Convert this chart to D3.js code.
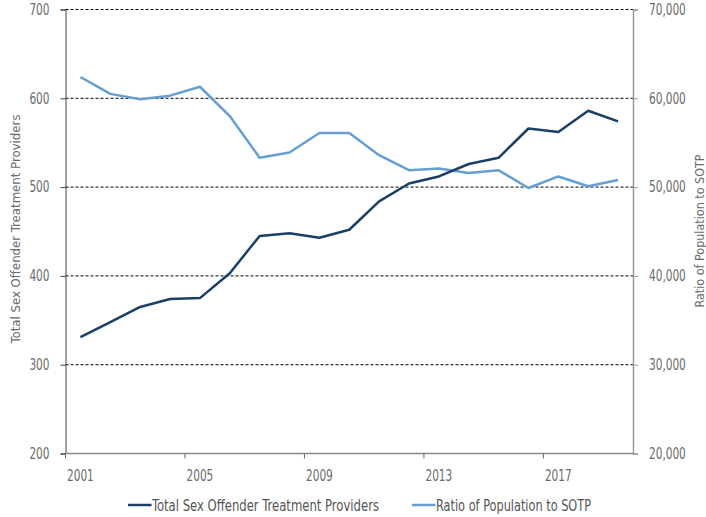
<!DOCTYPE html>
<html>
<head>
<meta charset="utf-8">
<script src="https://cdn.jsdelivr.net/npm/d3@7"></script>
<style>
  body { margin: 0; background: #fff; }
  text { font-family: "DejaVu Sans Condensed", "DejaVu Sans", sans-serif; font-stretch: condensed; fill: #6b6b6b; }
  .grid line { stroke: #000; stroke-dasharray: 3,2; stroke-width: 1; }
</style>
</head>
<body>
<script>
let years = d3.range(2001, 2020);
let providers = [331, 348, 365, 374, 375, 403, 445, 448, 443, 452, 484, 504, 512, 526, 533, 566, 562, 586, 574];
let ratio = [62400, 60500, 59900, 60300, 61300, 58000, 53300, 53900, 56100, 56100, 53600, 51900, 52100, 51600, 51900, 49900, 51200, 50100, 50800];
let leftTicks = [200, 300, 400, 500, 600, 700];
let rightTicks = [20000, 30000, 40000, 50000, 60000, 70000];
let yearLabels = [2001, 2005, 2009, 2013, 2017];

let W = 706, H = 517;
let margin = {top: 9.5, right: 73, bottom: 63.5, left: 65.5}
    , width = W - margin.left - margin.right
    , height = H - margin.top - margin.bottom;

let darkCol = "#1c3f66", lightCol = "#679fd3";

// squeeze text horizontally to mimic the condensed face of the original
let squeeze = (sel, k) => sel.each(function() {
    let w = this.getComputedTextLength();
    d3.select(this).attr("textLength", w * k).attr("lengthAdjust", "spacingAndGlyphs");
});
let fitTo = (sel, w) => sel.attr("textLength", w).attr("lengthAdjust", "spacingAndGlyphs");

let svg = d3.select("body").append("svg")
    .attr("width", W)
    .attr("height", H)
    .append("g")
    .attr("transform", "translate(" + margin.left + "," + margin.top + ")");

let x = d3.scaleBand().domain(years).range([0, width]);
let yL = d3.scaleLinear().domain([200, 700]).range([height, 0]);
let yR = d3.scaleLinear().domain([20000, 70000]).range([height, 0]);

// gridlines
svg.append("g")
    .attr("class", "grid")
    .selectAll("line")
    .data(leftTicks.slice(1))
    .join("line")
    .attr("x1", 0).attr("x2", width)
    .attr("y1", d => yL(d)).attr("y2", d => yL(d));

// left axis
let gl = svg.append("g")
    .call(d3.axisLeft(yL).tickValues(leftTicks).tickSize(5).tickPadding(11));
gl.select(".domain").attr("stroke", "#444");
gl.selectAll(".tick line").attr("stroke", "#444");
gl.selectAll("text").style("font-size", "15px").style("fill", "#6b6b6b").call(squeeze, 0.78);

// right axis
let gr = svg.append("g")
    .attr("transform", "translate(" + width + ",0)")
    .call(d3.axisRight(yR).tickValues(rightTicks).tickSize(5).tickPadding(11).tickFormat(d3.format(",")));
gr.select(".domain").attr("stroke", "#999").attr("stroke-width", 1.5);
gr.selectAll(".tick line").attr("stroke", "#999");
gr.selectAll("text").style("font-size", "15px").style("fill", "#6b6b6b").call(squeeze, 0.78);

// bottom axis
let gb = svg.append("g")
    .attr("transform", "translate(0," + height + ")");
gb.append("line")
    .attr("x1", 0).attr("x2", width)
    .attr("stroke", "#888").attr("stroke-width", 1.5);
gb.selectAll(".tk")
    .data(yearLabels)
    .join("line")
    .attr("x1", d => x(d)).attr("x2", d => x(d))
    .attr("y1", 0).attr("y2", 5)
    .attr("stroke", "#666");
gb.selectAll(".lbl")
    .data(yearLabels)
    .join("text")
    .attr("x", d => x(d) + x.bandwidth() / 2)
    .attr("y", 27.5)
    .attr("text-anchor", "middle")
    .style("font-size", "15px")
    .text(d => d)
    .call(squeeze, 0.78);

// lines
let cx = (d, i) => x(years[i]) + x.bandwidth() / 2;
svg.append("path")
    .datum(ratio)
    .attr("fill", "none")
    .attr("stroke", lightCol)
    .attr("stroke-width", 2.5)
    .attr("stroke-linejoin", "round")
    .attr("d", d3.line().x(cx).y(d => yR(d)));
svg.append("path")
    .datum(providers)
    .attr("fill", "none")
    .attr("stroke", darkCol)
    .attr("stroke-width", 2.5)
    .attr("stroke-linejoin", "round")
    .attr("d", d3.line().x(cx).y(d => yL(d)));

// axis titles
svg.append("text")
    .attr("transform", "translate(" + (20 - margin.left) + "," + (229 - margin.top) + ") rotate(-90)")
    .attr("text-anchor", "middle")
    .style("font-size", "13px")
    .text("Total Sex Offender Treatment Providers")
    .call(fitTo, 229);
svg.append("text")
    .attr("transform", "translate(" + (704 - margin.left) + "," + (231 - margin.top) + ") rotate(-90)")
    .attr("text-anchor", "middle")
    .style("font-size", "13px")
    .text("Ratio of Population to SOTP")
    .call(fitTo, 153);

// legend
let legend = [
    {name: "Total Sex Offender Treatment Providers", color: darkCol, x: 128, w: 227},
    {name: "Ratio of Population to SOTP", color: lightCol, x: 412, w: 155}
];
let lg = svg.selectAll(".legend")
    .data(legend)
    .join("g")
    .attr("transform", d => "translate(" + (d.x - margin.left) + "," + (505 - margin.top) + ")");
lg.append("line")
    .attr("x1", 0).attr("x2", 23.5)
    .attr("stroke", d => d.color)
    .attr("stroke-width", 2.5);
lg.append("text")
    .attr("x", 24)
    .attr("dy", "0.35em")
    .style("font-size", "16px")
    .style("fill", "#555")
    .text(d => d.name)
    .each(function(d) { d3.select(this).call(fitTo, d.w); });
</script>
</body>
</html>
